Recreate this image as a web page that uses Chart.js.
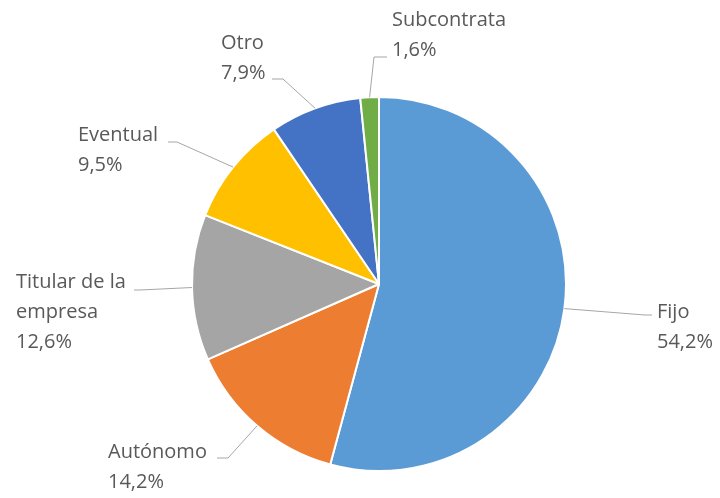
<!DOCTYPE html>
<html>
<head>
<meta charset="utf-8">
<script src="https://cdn.jsdelivr.net/npm/chart.js@4/dist/chart.umd.min.js"></script>
<style>
  html, body { margin: 0; padding: 0; background: #fff; }
  #wrap { width: 720px; height: 498px; }
</style>
</head>
<body>
<div id="wrap"><canvas id="pieChart" width="720" height="498"></canvas></div>
<script>
// data
const categories = ['Fijo', 'Autónomo', 'Titular de la empresa', 'Eventual', 'Otro', 'Subcontrata'];
const labelLines = [['Fijo'], ['Autónomo'], ['Titular de la', 'empresa'], ['Eventual'], ['Otro'], ['Subcontrata']];
const shares = [54.2, 14.2, 12.6, 9.5, 7.9, 1.6];
const colors = ['#5B9BD5', '#ED7D31', '#A5A5A5', '#FFC000', '#4472C4', '#70AD47'];

// where each label sits: text left x, first line y, elbow and end of leader
const labelLayout = [
    { tx: 657, ty: 312, elbow: [645, 315], end: [652, 315] },
    { tx: 108, ty: 452, elbow: [228, 458], end: [217, 458] },
    { tx: 16,  ty: 282, elbow: [140, 290], end: [134, 290] },
    { tx: 78,  ty: 135, elbow: [177, 142], end: [168, 142] },
    { tx: 221, ty: 43,  elbow: [283, 79],  end: [272, 79] },
    { tx: 392, ty: 20,  elbow: [374, 57],  end: [387, 57] }
];

const lineGap = 30;

const outsideLabels = {
    id: 'outsideLabels',
    afterDraw(chart) {
        const ctx = chart.ctx;
        const arcs = chart.getDatasetMeta(0).data;
        ctx.save();
        arcs.forEach((arc, i) => {
            const p = arc.getProps(['x', 'y', 'startAngle', 'endAngle', 'outerRadius'], true);
            const mid = (p.startAngle + p.endAngle) / 2;
            const sx = p.x + Math.cos(mid) * p.outerRadius;
            const sy = p.y + Math.sin(mid) * p.outerRadius;
            const lay = labelLayout[i];

            ctx.strokeStyle = '#A6A6A6';
            ctx.lineWidth = 1;
            ctx.beginPath();
            ctx.moveTo(sx, sy);
            ctx.lineTo(lay.elbow[0], lay.elbow[1]);
            ctx.lineTo(lay.end[0], lay.end[1]);
            ctx.stroke();

            ctx.fillStyle = '#595959';
            ctx.font = '20px "Open Sans"';
            ctx.textAlign = 'left';
            ctx.textBaseline = 'middle';
            const lines = labelLines[i].concat([shares[i].toFixed(1).replace('.', ',') + '%']);
            lines.forEach((t, k) => {
                ctx.fillText(t, lay.tx, lay.ty + k * lineGap);
            });
        });
        ctx.restore();
    }
};

new Chart(document.getElementById('pieChart'), {
    type: 'pie',
    data: {
        labels: categories,
        datasets: [{
            data: shares,
            backgroundColor: colors,
            borderColor: '#ffffff',
            borderWidth: 2,
            hoverOffset: 0
        }]
    },
    options: {
        responsive: false,
        animation: false,
        layout: { padding: { left: 191, right: 153, top: 96, bottom: 26 } },
        plugins: {
            legend: { display: false },
            tooltip: { enabled: false }
        }
    },
    plugins: [outsideLabels]
});
</script>
</body>
</html>
